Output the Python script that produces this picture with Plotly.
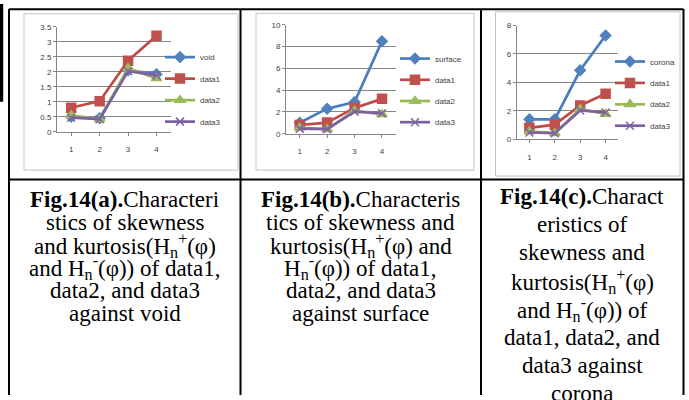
import plotly.graph_objects as go

# x categories shared by every panel
categories = [1, 2, 3, 4]

# reference series per panel
void_vals = [0.5, 0.45, 2.05, 1.92]
surface_vals = [1.0, 2.3, 2.9, 8.5]
corona_vals = [1.4, 1.4, 4.85, 7.3]

# comparison series (same in every panel)
data1 = [0.8, 1.02, 2.37, 3.2]
data2 = [0.55, 0.42, 2.12, 1.78]
data3 = [0.47, 0.42, 2.02, 1.88]

series_names = ["data1", "data2", "data3"]

# caption lines under each panel
caption_a = [
    "<b>Fig.14(a).</b>Characteri",
    "stics of skewness",
    "and kurtosis(H<sub>n</sub><sup>+</sup>(φ)",
    "and H<sub>n</sub><sup>-</sup>(φ)) of data1,",
    "data2, and data3",
    "against void",
]
caption_b = [
    "<b>Fig.14(b).</b>Characteris",
    "tics of skewness and",
    "kurtosis(H<sub>n</sub><sup>+</sup>(φ) and",
    "H<sub>n</sub><sup>-</sup>(φ)) of data1,",
    "data2, and data3",
    "against surface",
]
caption_c = [
    "<b>Fig.14(c).</b>Charact",
    "eristics of",
    "skewness and",
    "kurtosis(H<sub>n</sub><sup>+</sup>(φ)",
    "and H<sub>n</sub><sup>-</sup>(φ)) of",
    "data1, data2, and",
    "data3 against",
    "corona",
]

W, H = 689, 400


def px(x):
    return x / W


def py(y):
    return 1 - y / H


line_colors = ["#4A7EBB", "#BE4B48", "#98B954", "#7D60A0"]
marker_colors = ["#4F81BD", "#C0504D", "#9BBB59", "#8064A2"]
symbols = ["diamond", "square", "triangle-up", "x-thin-open"]
msizes = [8, 9, 9, 8]

panels = [
    # name, ref values, axis suffix, x px range, y px range (value0, top), y max, dtick, legend id, legend pos, row gap
    ("void", void_vals, "", (57, 170.7), (130.7, 23.3), 3.5, 0.5, "legend", (160, 39.5), 2.5),
    ("surface", surface_vals, "2", (286, 395.7), (132.7, 21.3), 10, 2, "legend2", (395, 41), 2.2),
    ("corona", corona_vals, "3", (516.7, 618.3), (138.3, 22), 8, 2, "legend3", (610, 44), 2.4),
]

fig = go.Figure()
layout = dict(
    width=W, height=H, margin=dict(l=0, r=0, t=0, b=0),
    paper_bgcolor="white", plot_bgcolor="white", showlegend=True,
)

tick_font = dict(family="Liberation Sans, Arial, sans-serif", size=8, color="#404040")

for pi, (ref_name, ref_vals, sfx, xr, yr, ymax, dt, leg, lpos, gap) in enumerate(panels):
    all_vals = [ref_vals, data1, data2, data3]
    names = [ref_name] + series_names
    for si in range(4):
        fig.add_trace(go.Scatter(
            x=categories, y=all_vals[si], name=names[si],
            mode="lines+markers",
            line=dict(color=line_colors[si], width=2.7),
            marker=dict(symbol=symbols[si], size=msizes[si], color=marker_colors[si],
                        line=dict(color=marker_colors[si], width=1.5)),
            xaxis="x" + sfx, yaxis="y" + sfx,
            legend=leg, legendgroup=f"{leg}_{si}",
        ))
    layout["xaxis" + sfx] = dict(
        domain=[px(xr[0]), px(xr[1])], anchor="y" + sfx,
        range=[0.5, 4.5], tickvals=categories, tickson="boundaries",
        ticks="outside", ticklen=3, tickcolor="#868686",
        showline=True, linecolor="#868686", linewidth=1,
        showgrid=False, zeroline=False, tickfont=tick_font,
        ticklabelstandoff=7,
    )
    layout["yaxis" + sfx] = dict(
        domain=[py(yr[0]), py(yr[1])], anchor="x" + sfx,
        range=[0, ymax], dtick=dt, tick0=0,
        ticks="outside", ticklen=3, tickcolor="#868686",
        showline=True, linecolor="#868686", linewidth=1,
        showgrid=True, gridcolor="#868686", gridwidth=1,
        zeroline=False, tickfont=tick_font,
    )
    layout[leg] = dict(
        x=px(lpos[0]), y=py(lpos[1]), xanchor="left", yanchor="top",
        bgcolor="rgba(0,0,0,0)", borderwidth=0,
        font=dict(family="Liberation Sans, Arial, sans-serif", size=8, color="#404040"),
        tracegroupgap=gap, itemclick=False,
    )

shapes = []
# chart frames
for (x0, y0, x1, y1) in [(24, 10, 238, 170), (256, 9.5, 474, 170), (495.5, 8, 680, 176)]:
    shapes.append(dict(type="rect", xref="paper", yref="paper",
                       x0=px(x0), x1=px(x1), y0=py(y1), y1=py(y0),
                       line=dict(color="#c4c4c4", width=1), fillcolor="rgba(0,0,0,0)"))
# table borders
black = dict(color="black", width=2)
for x in [9, 240.5, 481, 683.5]:
    shapes.append(dict(type="line", xref="paper", yref="paper",
                       x0=px(x), x1=px(x), y0=py(400), y1=py(5), line=black))
for y in [5.3, 179.5]:
    shapes.append(dict(type="line", xref="paper", yref="paper",
                       x0=px(9), x1=px(683.5), y0=py(y), y1=py(y), line=black))
# dark bar at the far left edge
shapes.append(dict(type="rect", xref="paper", yref="paper",
                   x0=0, x1=px(3.2), y0=py(100), y1=1,
                   line=dict(width=0), fillcolor="black"))
layout["shapes"] = shapes

annotations = []
cap_font = dict(family="Liberation Serif", size=23, color="black")
for lines, cx, y0, step in [(caption_a, 124.75, 200, 23.3),
                            (caption_b, 360.75, 200, 23.3),
                            (caption_c, 582.25, 197, 28.8)]:
    for i, t in enumerate(lines):
        annotations.append(dict(
            text=t, xref="paper", yref="paper", x=px(cx), y=py(y0 + i * step),
            xanchor="center", yanchor="middle", showarrow=False, font=cap_font,
        ))
layout["annotations"] = annotations

fig.update_layout(**layout)
fig.write_html("out.html")
